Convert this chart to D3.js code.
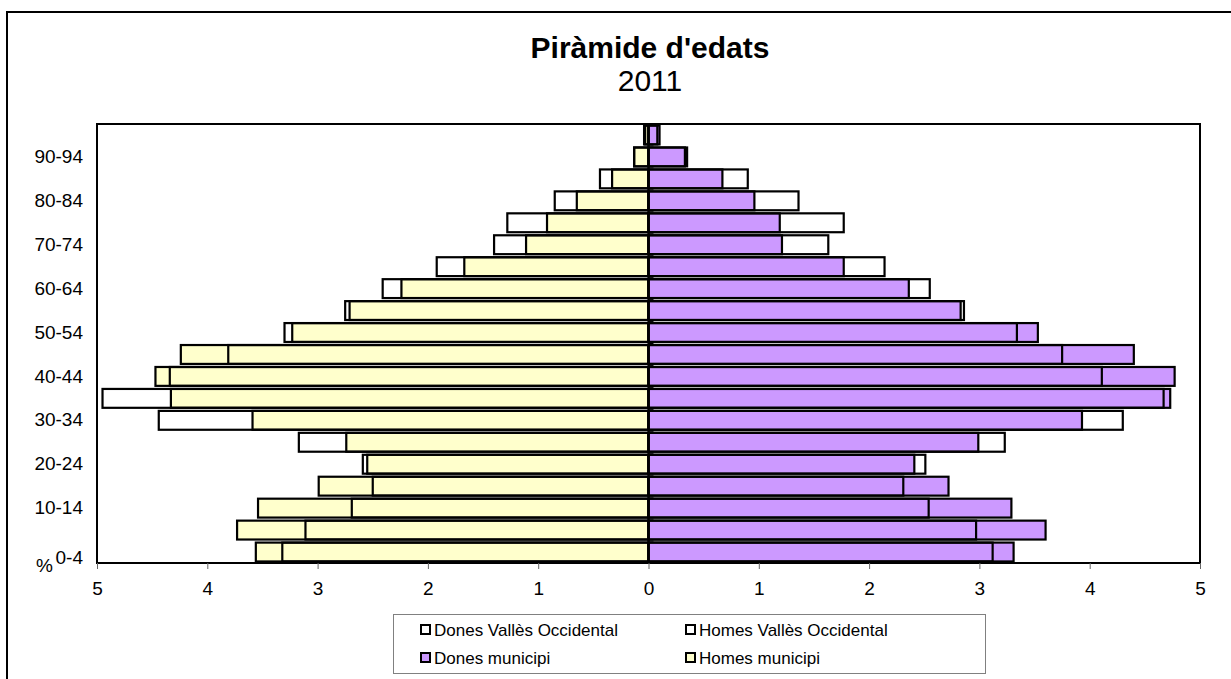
<!DOCTYPE html>
<html>
<head>
<meta charset="utf-8">
<script src="https://cdn.jsdelivr.net/npm/d3@7"></script>
<style>
  html, body { margin: 0; padding: 0; background: #fff; }
  svg { display: block; font-family: Arial, "Liberation Sans", sans-serif; }
</style>
</head>
<body>
<svg id="chart" width="1231" height="679"></svg>
<script>
// Age groups, bottom to top
const categories = ["0-4","5-9","10-14","15-19","20-24","25-29","30-34","35-39","40-44","45-49",
                    "50-54","55-59","60-64","65-69","70-74","75-79","80-84","85-89","90-94","95+"];
const labeledCategories = ["0-4","10-14","20-24","30-34","40-44","50-54","60-64","70-74","80-84","90-94"];
// Percentages
const homesMunicipi = [3.56,3.73,3.54,2.99,2.55,2.74,3.59,4.33,4.47,4.24,3.23,2.71,2.24,1.67,1.11,0.92,0.65,0.33,0.13,0.03];
const homesVO       = [3.32,3.11,2.69,2.50,2.59,3.17,4.44,4.95,4.34,3.81,3.30,2.75,2.41,1.92,1.40,1.28,0.85,0.44,0.13,0.04];
const donesMunicipi = [3.31,3.60,3.29,2.72,2.41,2.99,3.93,4.73,4.77,4.40,3.53,2.83,2.36,1.77,1.21,1.19,0.96,0.67,0.35,0.10];
const donesVO       = [3.12,2.97,2.54,2.31,2.51,3.23,4.30,4.67,4.11,3.75,3.34,2.86,2.55,2.14,1.63,1.77,1.36,0.90,0.33,0.08];
const xTicks = [-5,-4,-3,-2,-1,0,1,2,3,4,5];
const titleText = "Piràmide d'edats";
const subtitleText = "2011";
const legendItems = [
  {label: "Dones Vallès Occidental", fill: "#FFFFFF"},
  {label: "Homes Vallès Occidental", fill: "#FFFFFF"},
  {label: "Dones municipi", fill: "#CC99FF"},
  {label: "Homes municipi", fill: "#FFFFCC"}
];

const svg = d3.select("#chart");
const plot = {left: 97, right: 1200, top: 124, bottom: 563};

// Outer chart border
svg.append("rect").attr("x", 7).attr("y", 12).attr("width", 1240).attr("height", 700)
  .attr("fill", "#fff").attr("stroke", "#000").attr("stroke-width", 2);

// Title
svg.append("text").attr("x", 650).attr("y", 58).attr("text-anchor", "middle")
  .attr("font-size", 30).attr("font-weight", "bold").text(titleText);
svg.append("text").attr("x", 650).attr("y", 91).attr("text-anchor", "middle")
  .attr("font-size", 30).text(subtitleText);

const x = d3.scaleLinear().domain([-5, 5]).range([plot.left, plot.right]);
const y = d3.scaleBand().domain(categories.slice().reverse()).range([plot.top, plot.bottom])
  .paddingInner(0.14).paddingOuter(0.07);

// Plot area frame
svg.append("rect").attr("x", plot.left).attr("y", plot.top)
  .attr("width", plot.right - plot.left).attr("height", plot.bottom - plot.top)
  .attr("fill", "#fff").attr("stroke", "#000").attr("stroke-width", 2);

const bars = svg.append("g");
function drawBars(values, sign, fill, stroke) {
  bars.append("g").selectAll("rect").data(values).join("rect")
    .attr("x", (d) => sign < 0 ? x(-d) : x(0))
    .attr("width", (d) => Math.abs(x(d) - x(0)))
    .attr("y", (d, i) => y(categories[i]))
    .attr("height", y.bandwidth())
    .attr("fill", fill)
    .attr("stroke", stroke)
    .attr("stroke-width", 2.2);
}
drawBars(homesMunicipi, -1, "#FFFFCC", "#000");
drawBars(donesMunicipi, 1, "#CC99FF", "#000");
drawBars(homesVO, -1, "none", "#000");
drawBars(donesVO, 1, "none", "#000");

// Center axis line with small category ticks
svg.append("line").attr("x1", x(0)).attr("x2", x(0)).attr("y1", plot.top).attr("y2", plot.bottom)
  .attr("stroke", "#000").attr("stroke-width", 2);
const boundaries = d3.range(1, categories.length).map(i => plot.top + i * (plot.bottom - plot.top) / categories.length);
svg.append("g").selectAll("line").data(boundaries).join("line")
  .attr("x1", x(0)).attr("x2", x(0) + 5).attr("y1", d => d).attr("y2", d => d)
  .attr("stroke", "#000").attr("stroke-width", 1);

// X axis
const xAxis = svg.append("g").attr("transform", `translate(0,${plot.bottom})`)
  .call(d3.axisBottom(x).tickValues(xTicks).tickFormat(d => Math.abs(d)).tickSize(6).tickPadding(13));
xAxis.select(".domain").remove();
xAxis.selectAll(".tick line").attr("stroke", "#666");
xAxis.selectAll("text").attr("font-size", 19).attr("fill", "#000")
  .attr("font-family", "Arial, 'Liberation Sans', sans-serif");

// Y axis labels
const yAxis = svg.append("g").attr("transform", `translate(${plot.left},0)`)
  .call(d3.axisLeft(y).tickValues(labeledCategories).tickSize(0).tickPadding(14));
yAxis.select(".domain").remove();
yAxis.selectAll("text").attr("font-size", 19).attr("fill", "#000")
  .attr("font-family", "Arial, 'Liberation Sans', sans-serif");
yAxis.selectAll(".tick").filter(d => d === "0-4").select("text").attr("dy", "0.62em");

// Axis unit
svg.append("text").attr("x", 36).attr("y", 572).attr("font-size", 19).text("%");

// Legend
const lg = svg.append("g");
lg.append("rect").attr("x", 393.5).attr("y", 614.5).attr("width", 592).attr("height", 59)
  .attr("fill", "#fff").attr("stroke", "#808080").attr("stroke-width", 1);
const legendPos = [[421, 630], [686, 630], [421, 658], [686, 658]];
legendItems.forEach((it, i) => {
  const [lx, ly] = legendPos[i];
  lg.append("rect").attr("x", lx).attr("y", ly - 5).attr("width", 9).attr("height", 9)
    .attr("fill", it.fill).attr("stroke", "#000").attr("stroke-width", 2);
  lg.append("text").attr("x", lx + 13).attr("y", ly + 6).attr("font-size", 17).text(it.label);
});
</script>
</body>
</html>
